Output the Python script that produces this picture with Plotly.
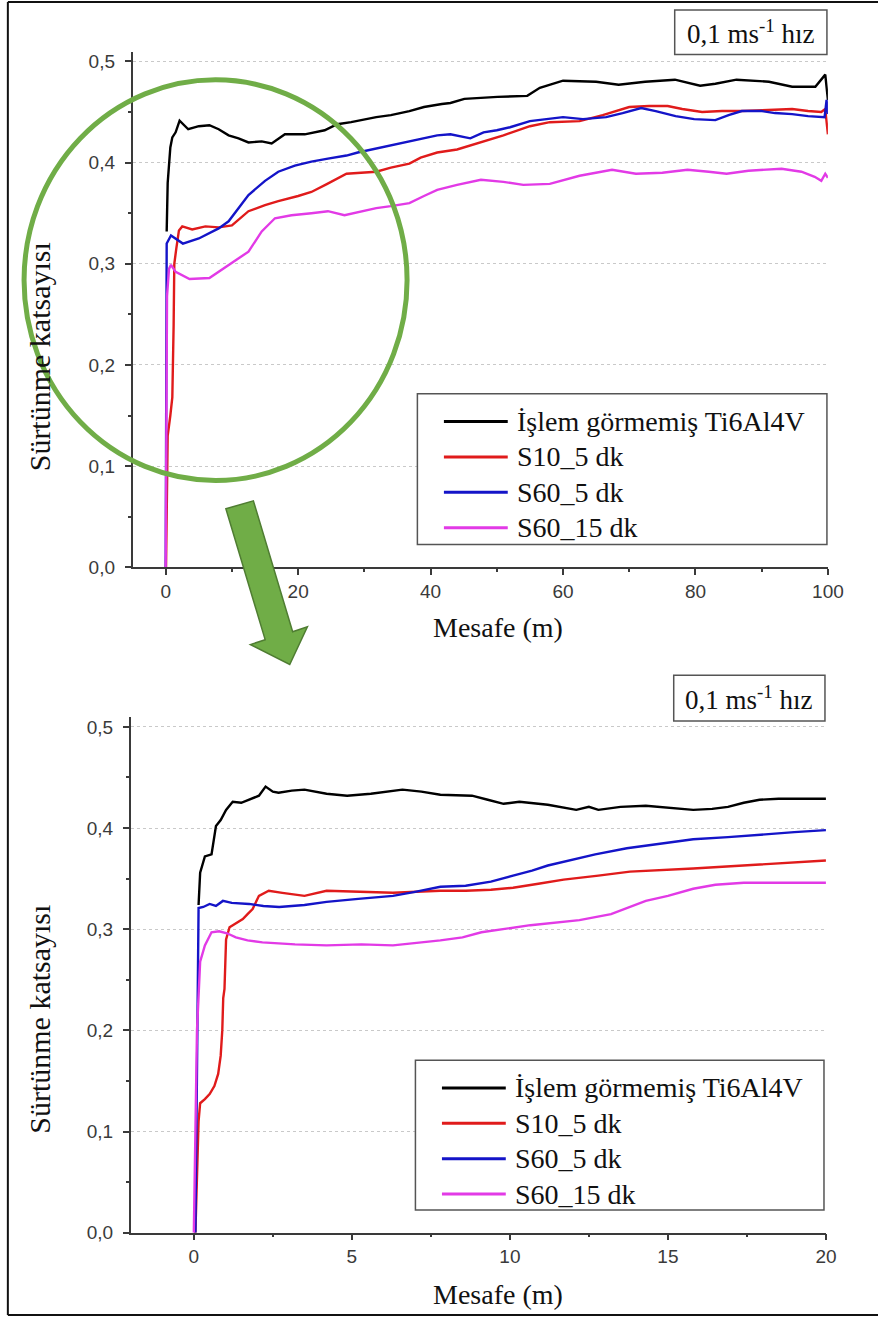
import plotly.graph_objects as go

W, H = 894, 1327

# ---------------- data: 0-100 m run ----------------
full_black_x = [0.15, 0.3, 0.7, 1.0, 1.5, 2.1, 3.4, 5.0, 6.6, 8.0, 9.5, 11.0, 12.5, 14.5, 16.0, 18.0, 21.0, 24.0,
                25.9, 28.0, 31.8, 34.0, 36.8, 39.0, 41.7, 43.0, 45.1, 50.1, 54.6, 56.5, 60.0, 65.0, 68.4, 72.4,
                76.9, 80.7, 83.0, 86.2, 91.1, 94.6, 98.1, 99.6, 100.0]
full_black_y = [0.332, 0.38, 0.415, 0.425, 0.43, 0.4415, 0.433, 0.436, 0.437, 0.433, 0.427, 0.424, 0.420, 0.421,
                0.419, 0.428, 0.428, 0.432, 0.438, 0.440, 0.445, 0.447, 0.451, 0.455, 0.458, 0.459, 0.463, 0.465,
                0.466, 0.474, 0.481, 0.480, 0.477, 0.480, 0.482, 0.476, 0.478, 0.482, 0.480, 0.475, 0.475, 0.487,
                0.462]

full_red_x = [0.05, 0.2, 0.3, 0.7, 1.0, 1.2, 1.3, 1.6, 2.0, 2.5, 4.0, 6.0, 8.0, 10.0, 12.5, 15.0, 17.0, 20.0, 22.0,
              24.4, 27.3, 29.5, 31.8, 34.0, 36.8, 38.5, 41.0, 44.0, 47.6, 51.0, 55.0, 58.0, 62.5, 66.0, 70.0, 73.0,
              75.8, 78.0, 81.0, 84.0, 87.0, 90.0, 94.6, 97.0, 99.0, 99.6, 100.0]
full_red_y = [0.0, 0.1, 0.13, 0.15, 0.168, 0.24, 0.30, 0.315, 0.333, 0.337, 0.334, 0.337, 0.336, 0.338, 0.352,
              0.358, 0.362, 0.367, 0.371, 0.379, 0.389, 0.390, 0.391, 0.395, 0.399, 0.405, 0.410, 0.413, 0.420,
              0.427, 0.436, 0.440, 0.441, 0.447, 0.455, 0.456, 0.456, 0.453, 0.450, 0.451, 0.451, 0.452, 0.453,
              0.451, 0.450, 0.453, 0.428]

full_blue_x = [0.0, 0.05, 0.1, 0.15, 0.8, 2.6, 5.0, 8.0, 9.5, 11.0, 12.5, 15.0, 17.0, 19.5, 22.0, 24.5, 27.3,
               29.0, 31.8, 35.0, 38.0, 41.0, 43.0, 46.0, 48.0, 50.0, 52.0, 55.0, 57.5, 60.0, 63.0, 66.5, 69.0,
               71.8, 74.0, 77.0, 79.8, 83.0, 85.0, 87.0, 90.0, 92.0, 94.6, 97.0, 99.5, 99.8, 100.0]
full_blue_y = [0.0, 0.1, 0.25, 0.32, 0.328, 0.320, 0.325, 0.335, 0.342, 0.355, 0.368, 0.382, 0.391, 0.397, 0.401,
               0.404, 0.407, 0.410, 0.414, 0.419, 0.423, 0.427, 0.428, 0.424, 0.430, 0.432, 0.435, 0.441, 0.443,
               0.445, 0.443, 0.445, 0.449, 0.454, 0.451, 0.446, 0.443, 0.442, 0.447, 0.451, 0.451, 0.449, 0.448,
               0.446, 0.445, 0.462, 0.448]

full_mag_x = [0.0, 0.05, 0.1, 0.2, 0.5, 0.8, 1.5, 3.6, 6.6, 8.0, 9.5, 11.0, 12.5, 13.5, 14.5, 16.5, 19.0, 22.0,
              24.5, 27.0, 29.5, 31.8, 34.0, 36.8, 39.0, 41.0, 44.0, 47.6, 51.0, 54.0, 58.0, 62.5, 67.4, 71.0,
              75.0, 78.8, 82.0, 84.7, 88.0, 93.0, 96.0, 98.0, 99.0, 99.6, 100.0]
full_mag_y = [0.0, 0.1, 0.2, 0.268, 0.295, 0.299, 0.292, 0.285, 0.286, 0.292, 0.299, 0.305, 0.312, 0.322, 0.332,
              0.345, 0.348, 0.350, 0.352, 0.348, 0.352, 0.355, 0.357, 0.360, 0.367, 0.373, 0.378, 0.383, 0.381,
              0.378, 0.379, 0.387, 0.393, 0.389, 0.390, 0.393, 0.391, 0.389, 0.392, 0.394, 0.391, 0.386, 0.382,
              0.389, 0.385]

# ---------------- data: first 20 m ----------------
zoom_black_x = [0.15, 0.2, 0.35, 0.56, 0.7, 0.85, 1.02, 1.23, 1.5, 1.75, 2.06, 2.27, 2.5, 2.68, 3.1, 3.5, 4.2,
                4.85, 5.6, 6.6, 7.2, 7.8, 8.8, 9.3, 9.8, 10.3, 11.2, 12.1, 12.5, 12.8, 13.5, 14.3, 15.2, 15.8,
                16.4, 16.9, 17.4, 17.9, 18.5, 19.2, 20.0]
zoom_black_y = [0.324, 0.356, 0.372, 0.374, 0.402, 0.408, 0.418, 0.426, 0.425, 0.428, 0.432, 0.441, 0.436, 0.435,
                0.437, 0.438, 0.434, 0.432, 0.434, 0.438, 0.436, 0.433, 0.432, 0.428, 0.424, 0.426, 0.423, 0.418,
                0.421, 0.418, 0.421, 0.422, 0.420, 0.418, 0.419, 0.421, 0.425, 0.428, 0.429, 0.429, 0.429]

zoom_red_x = [0.05, 0.15, 0.2, 0.35, 0.5, 0.65, 0.77, 0.85, 0.9, 0.93, 0.97, 1.02, 1.13, 1.3, 1.55, 1.7, 1.86,
              2.06, 2.37, 2.8, 3.5, 4.2, 5.2, 6.3, 7.8, 8.6, 9.4, 10.1, 10.9, 11.7, 12.8, 13.8, 15.8, 17.9, 19.0,
              20.0]
zoom_red_y = [0.0, 0.11, 0.128, 0.132, 0.137, 0.145, 0.157, 0.175, 0.2, 0.232, 0.241, 0.29, 0.302, 0.305, 0.31,
              0.315, 0.32, 0.333, 0.338, 0.336, 0.333, 0.338, 0.337, 0.336, 0.338, 0.338, 0.339, 0.341, 0.345,
              0.349, 0.353, 0.357, 0.36, 0.364, 0.366, 0.368]

zoom_blue_x = [0.05, 0.1, 0.15, 0.3, 0.5, 0.7, 0.92, 1.2, 1.75, 2.2, 2.7, 3.5, 4.2, 5.2, 6.3, 7.0, 7.8, 8.6, 9.4,
               10.1, 10.7, 11.2, 12.0, 12.7, 13.7, 14.8, 15.8, 16.9, 18.0, 19.0, 20.0]
zoom_blue_y = [0.0, 0.2, 0.321, 0.322, 0.325, 0.323, 0.328, 0.326, 0.325, 0.323, 0.322, 0.324, 0.327, 0.330,
               0.333, 0.337, 0.342, 0.343, 0.347, 0.353, 0.358, 0.363, 0.369, 0.374, 0.380, 0.385, 0.389, 0.391,
               0.394, 0.396, 0.398]

zoom_mag_x = [0.0, 0.05, 0.1, 0.2, 0.35, 0.56, 0.8, 1.05, 1.33, 1.7, 2.17, 3.2, 4.2, 5.3, 6.3, 7.8, 8.5, 9.1,
              10.65, 12.2, 13.2, 14.3, 15.0, 15.8, 16.5, 17.4, 18.5, 20.0]
zoom_mag_y = [0.0, 0.1, 0.2, 0.268, 0.284, 0.297, 0.298, 0.296, 0.292, 0.289, 0.287, 0.285, 0.284, 0.285, 0.284,
              0.289, 0.292, 0.297, 0.304, 0.309, 0.315, 0.328, 0.333, 0.34, 0.344, 0.346, 0.346, 0.346]

series_names = ["İşlem görmemiş Ti6Al4V", "S10_5 dk", "S60_5 dk", "S60_15 dk"]
series_colors = ["#000000", "#e01b1b", "#1414c8", "#e23ae6"]

x_ticks_full = [0, 20, 40, 60, 80, 100]
x_ticks_zoom = [0, 5, 10, 15, 20]
y_ticks = [0.0, 0.1, 0.2, 0.3, 0.4, 0.5]

speed_label = "0,1 ms<sup>-1</sup> hız"
x_title = "Mesafe (m)"
y_title = "Sürtünme katsayısı"

SERIF = "Liberation Serif, Times New Roman, serif"
SANS = "Liberation Sans, Arial, sans-serif"
AX = "#3a3a3a"
INK = "#111111"
GREEN = "#70ad47"


def px(x):
    return x / W


def py(y):
    return 1 - y / H


fig = go.Figure()

full_sets = [(full_black_x, full_black_y), (full_red_x, full_red_y),
             (full_blue_x, full_blue_y), (full_mag_x, full_mag_y)]
zoom_sets = [(zoom_black_x, zoom_black_y), (zoom_red_x, zoom_red_y),
             (zoom_blue_x, zoom_blue_y), (zoom_mag_x, zoom_mag_y)]

for (xs, ys), name, col in zip(full_sets, series_names, series_colors):
    fig.add_trace(go.Scatter(x=xs, y=ys, mode="lines", name=name, showlegend=False,
                             line=dict(color=col, width=2.4), xaxis="x", yaxis="y"))
for (xs, ys), name, col in zip(zoom_sets, series_names, series_colors):
    fig.add_trace(go.Scatter(x=xs, y=ys, mode="lines", name=name, showlegend=False,
                             line=dict(color=col, width=2.4), xaxis="x2", yaxis="y2"))


def xaxis_style(domain, rng, ticks, minor_dtick, anchor):
    return dict(domain=domain, range=rng, anchor=anchor, tickvals=ticks,
                showline=True, linecolor=AX, linewidth=1.5,
                ticks="outside", ticklen=6, tickwidth=1.5, tickcolor=AX,
                minor=dict(ticks="outside", ticklen=3, tickwidth=1.5, tickcolor=AX, dtick=minor_dtick),
                showgrid=False, zeroline=False,
                tickfont=dict(family=SANS, size=19, color=AX))


def yaxis_style(domain, anchor):
    return dict(domain=domain, range=[0, 0.5098], anchor=anchor, tickvals=y_ticks, tickformat=".1f",
                showline=True, linecolor=AX, linewidth=1.5,
                ticks="outside", ticklen=6, tickwidth=1.5, tickcolor=AX,
                minor=dict(ticks="outside", ticklen=3, tickwidth=1.5, tickcolor=AX, dtick=0.05, showgrid=False),
                showgrid=True, gridcolor="#c9c9c9", griddash="dot", gridwidth=1,
                zeroline=False, ticklabelstandoff=6,
                tickfont=dict(family=SANS, size=19, color=AX))


fig.update_layout(
    width=W, height=H,
    margin=dict(l=0, r=0, t=0, b=0),
    paper_bgcolor="white", plot_bgcolor="white",
    separators=", ",
    showlegend=False,
    xaxis=xaxis_style([px(135), px(843)], [-5, 100], x_ticks_full, 10, "y"),
    yaxis=yaxis_style([py(572), py(52)], "x"),
    xaxis2=xaxis_style([px(133), px(841)], [-2, 20], x_ticks_zoom, 2.5, "y2"),
    yaxis2=yaxis_style([py(1243), py(723)], "x2"),
)

shapes = []
annotations = []

# outer frame: left, top and bottom edges
for (xa, ya, xb, yb) in [(8, 2, 8, 1326), (8, 2, W, 2), (8, 1326, W, 1326)]:
    shapes.append(dict(type="line", xref="paper", yref="paper",
                       x0=px(xa), y0=py(ya), x1=px(xb), y1=py(yb),
                       line=dict(color=INK, width=2), layer="above"))

panels = [
    # speed box, x-title centre, y-title centre, legend box
    dict(box=(687, 10, 842, 55), xt=(507, 633), yt=(40, 360), leg=(425, 397, 842, 549)),
    dict(box=(686, 681, 840, 727), xt=(507, 1305), yt=(40, 1028), leg=(423, 1069, 839, 1220)),
]

for p in panels:
    x0, y0, x1, y1 = p["box"]
    shapes.append(dict(type="rect", xref="paper", yref="paper",
                       x0=px(x0), x1=px(x1), y0=py(y1), y1=py(y0),
                       line=dict(color="#555555", width=1.5), fillcolor="white", layer="above"))
    annotations.append(dict(xref="paper", yref="paper", x=px((x0 + x1) / 2), y=py((y0 + y1) / 2),
                            text=speed_label, showarrow=False, xanchor="center", yanchor="middle",
                            font=dict(family=SERIF, size=27, color=INK)))
    annotations.append(dict(xref="paper", yref="paper", x=px(p["xt"][0]), y=py(p["xt"][1]),
                            text=x_title, showarrow=False, xanchor="center", yanchor="middle",
                            font=dict(family=SERIF, size=28, color=INK)))
    annotations.append(dict(xref="paper", yref="paper", x=px(p["yt"][0]), y=py(p["yt"][1]),
                            text=y_title, showarrow=False, xanchor="center", yanchor="middle",
                            textangle=-90, font=dict(family=SERIF, size=30, color=INK)))

    # legend
    lx0, ly0, lx1, ly1 = p["leg"]
    shapes.append(dict(type="rect", xref="paper", yref="paper",
                       x0=px(lx0), x1=px(lx1), y0=py(ly1), y1=py(ly0),
                       line=dict(color="#555555", width=1.5), fillcolor="white", layer="above"))
    for i, (name, col) in enumerate(zip(series_names, series_colors)):
        ry = ly0 + 28 + i * 35.7
        shapes.append(dict(type="line", xref="paper", yref="paper",
                           x0=px(lx0 + 27), x1=px(lx0 + 92), y0=py(ry), y1=py(ry),
                           line=dict(color=col, width=3), layer="above"))
        annotations.append(dict(xref="paper", yref="paper", x=px(lx0 + 99), y=py(ry),
                                text=name, showarrow=False, xanchor="left", yanchor="middle",
                                font=dict(family=SERIF, size=28, color=INK)))

# green highlight ring around the running-in region
shapes.append(dict(type="circle", xref="paper", yref="paper",
                   x0=px(24.5), x1=px(414.5), y0=py(484.5), y1=py(80.5),
                   line=dict(color=GREEN, width=5), layer="above"))

# green arrow pointing to the detail panel
arrow_pts = [(230, 513), (258, 505), (298, 637), (313, 632), (295, 670), (255, 650), (270, 645)]
path = "M " + " L ".join(f"{px(a):.5f},{py(b):.5f}" for a, b in arrow_pts) + " Z"
shapes.append(dict(type="path", xref="paper", yref="paper", path=path,
                   fillcolor=GREEN, line=dict(color="#4f7d32", width=1.5), layer="above"))

fig.update_layout(shapes=shapes, annotations=annotations)

fig.write_html("out.html")
